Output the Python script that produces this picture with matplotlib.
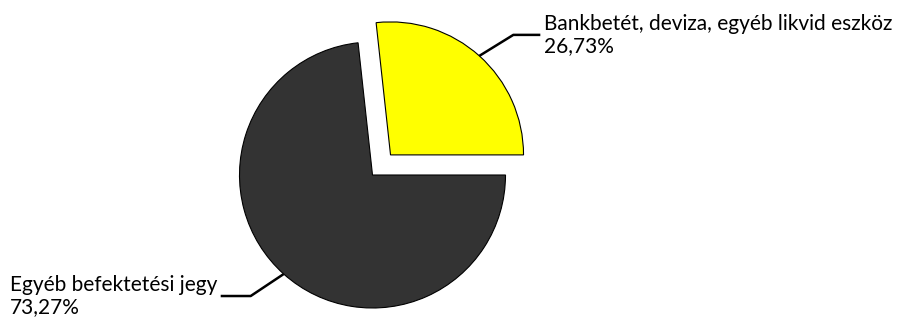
import numpy as np
import matplotlib
matplotlib.use('Agg')
import matplotlib.pyplot as plt

# Adatok
labels = ['Bankbetét, deviza, egyéb likvid eszköz', 'Egyéb befektetési jegy']
values = [26.73, 73.27]
colors = ['#ffff00', '#333333']

W, H = 904, 318
fig = plt.figure(figsize=(W / 100, H / 100), dpi=100)
ax = fig.add_axes([0, 0, 1, 1])

center = (372.5, H - 175)
radius = 133
# explode itt adategységben (pixel) értendő
wedges, _ = ax.pie(values, colors=colors, explode=[27, 0], startangle=0,
                   center=center, radius=radius, frame=True,
                   wedgeprops=dict(edgecolor='black', linewidth=0.8))
ax.set_xlim(0, W)
ax.set_ylim(0, H)
ax.set_aspect('equal')
ax.axis('off')

font = dict(family=['Lato', 'DejaVu Sans'], fontsize=15, color='black')

# Címkék vezetővonallal
offsets = [((34, 21), 27), ((-33, -22), -30)]
for w, lab, val, (off, hlen) in zip(wedges, labels, values, offsets):
    ang = np.deg2rad((w.theta1 + w.theta2) / 2)
    cx, cy = w.center
    x0 = cx + w.r * np.cos(ang)
    y0 = cy + w.r * np.sin(ang)
    x1, y1 = x0 + off[0], y0 + off[1]
    x2 = x1 + hlen
    ax.plot([x0, x1, x2], [y0, y1, y1], color='black', lw=1.8,
            solid_capstyle='butt')
    txt = f"{lab}\n{val:.2f}%".replace('.', ',')
    if hlen > 0:
        ax.text(x2 + 4, y1, txt, ha='left', va='center',
                linespacing=1.15, **font)
    else:
        ax.text(10, y1, txt, ha='left', va='center',
                linespacing=1.15, **font)

fig.savefig('out.png', dpi=100)
